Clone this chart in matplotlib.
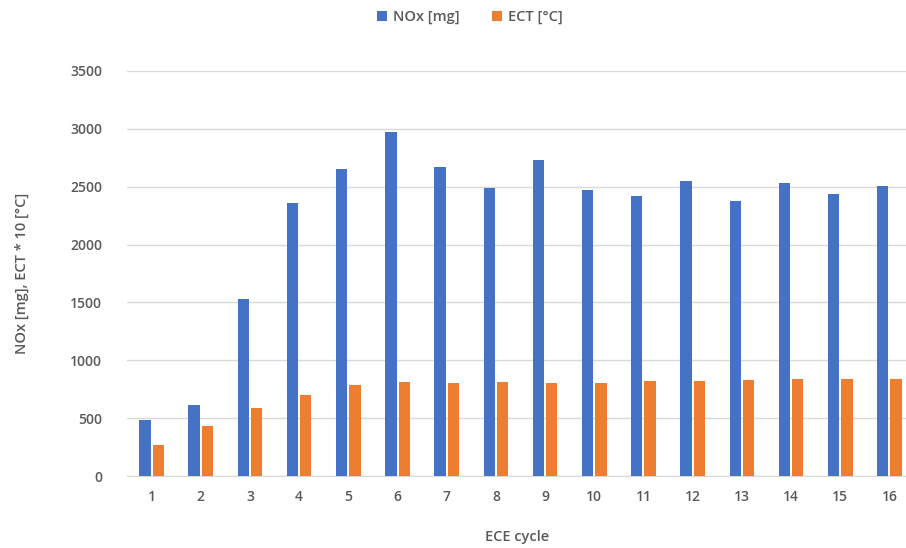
import numpy as np
from matplotlib import pyplot as plt

# данные по циклам ECE
cycles = [str(i) for i in range(1, 17)]
nox = [488, 612, 1528, 2362, 2653, 2976, 2671, 2489, 2734, 2474, 2416, 2549, 2373, 2532, 2434, 2503]
ect = [266, 435, 590, 701, 783, 809, 803, 814, 805, 805, 823, 817, 829, 835, 835, 835]

blue = '#4472C4'
orange = '#ED7D31'
gray = '#595959'

plt.rcParams['font.family'] = ['Open Sans', 'DejaVu Sans']

fig = plt.figure(figsize=(9.06, 5.48), dpi=100)
# правая граница области уходит за край картинки, как в оригинале
ax = fig.add_axes([127 / 906, 1 - 476 / 548, (914 - 127) / 906, (476 - 71) / 548])

x = np.arange(1, len(cycles) + 1)
w = 0.23
ax.bar(x - 0.135, nox, w, color=blue, label='NOx [mg]', zorder=3)
ax.bar(x + 0.135, ect, w, color=orange, label='ECT [°C]', zorder=3)

ax.set_xlim(0.5, 16.5)
ax.set_ylim(0, 3500)
ax.set_yticks(range(0, 3501, 500))
ax.set_xticks(x)
ax.set_xticklabels(cycles)
ax.grid(axis='y', color='#D9D9D9', lw=1, zorder=0)
for s in ['top', 'right', 'left']:
    ax.spines[s].set_visible(False)
ax.spines['bottom'].set_color('#D9D9D9')
ax.tick_params(length=0, colors=gray, labelsize=10)
ax.tick_params(axis='y', pad=18)
ax.tick_params(axis='x', pad=10)
for t in ax.get_xticklabels() + ax.get_yticklabels():
    t.set_fontweight('semibold')

fig.text(22 / 906, 1 - 273 / 548, 'NOx [mg], ECT * 10 [°C]', rotation=90,
         ha='center', va='center', color=gray, fontsize=10.5, fontweight='semibold')
fig.text(517 / 906, 1 - 537 / 548, 'ECE cycle', ha='center', va='center',
         color=gray, fontsize=10.5, fontweight='semibold')

fig.legend(loc='center', bbox_to_anchor=(470 / 906, 1 - 17 / 548), ncol=2, frameon=False,
           handlelength=0.7, handleheight=0.7, handletextpad=0.4, columnspacing=2.2,
           labelcolor=gray, prop={'size': 10.5, 'weight': 'semibold'})

plt.savefig('out.png', dpi=100)
